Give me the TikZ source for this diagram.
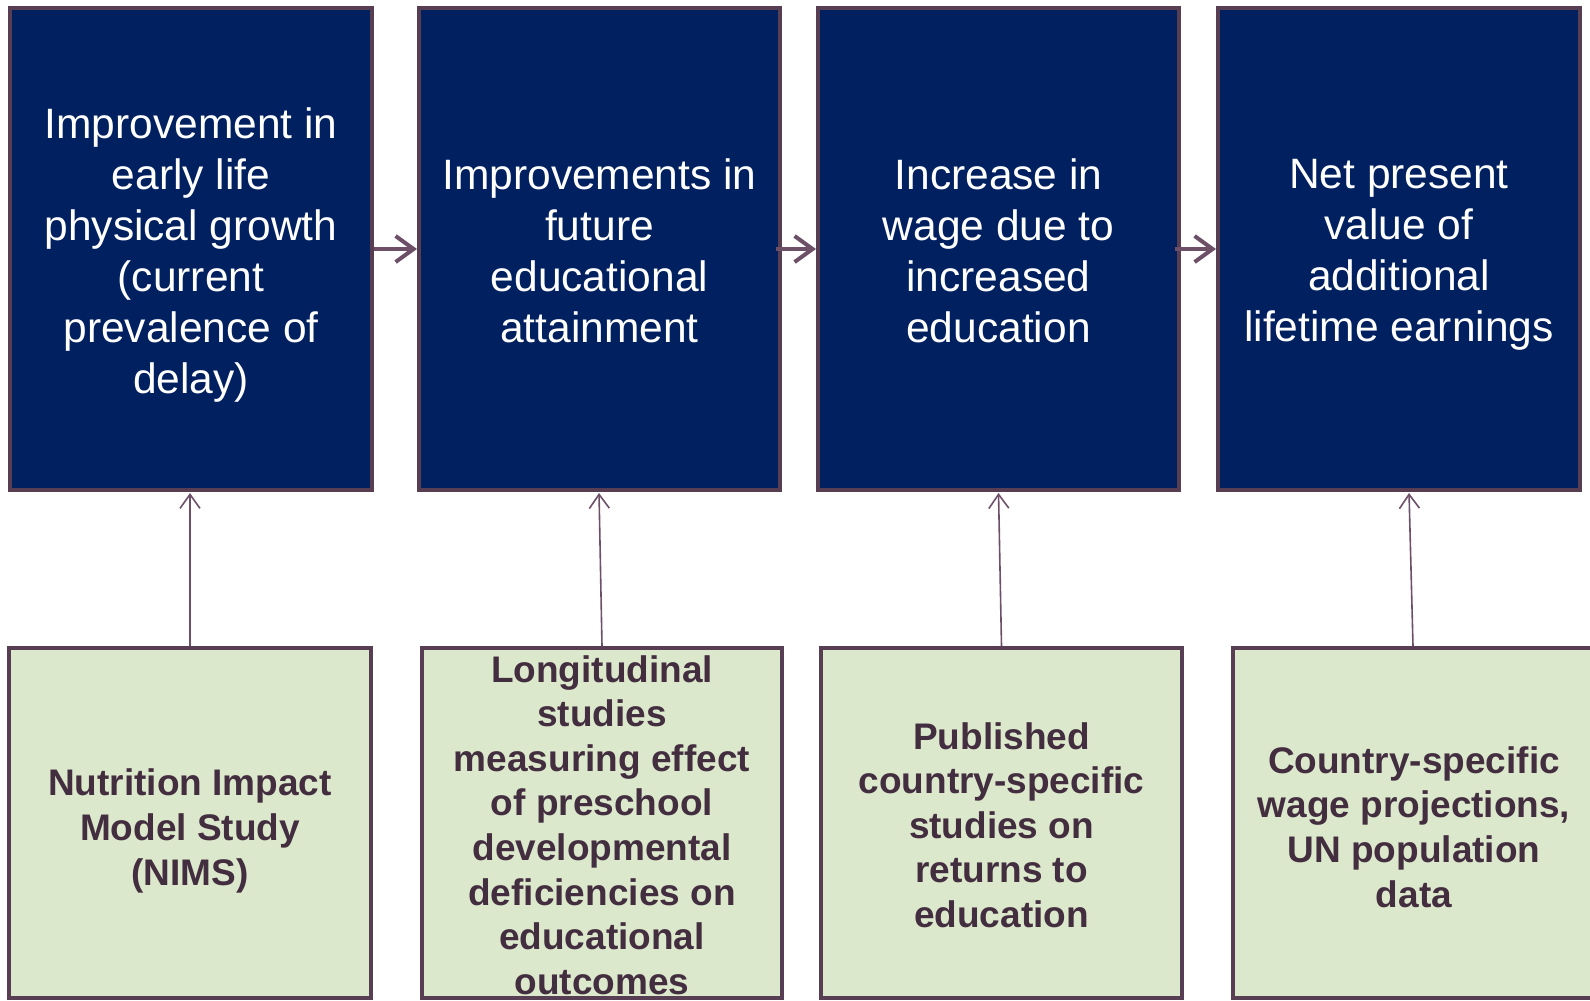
\documentclass[tikz,border=0pt]{standalone}
\usepackage{fontspec}
\setmainfont{Liberation Sans}
\usetikzlibrary{arrows.meta}

\definecolor{navy}{HTML}{002060}
\definecolor{frame}{HTML}{573E52}
\definecolor{linkc}{HTML}{6D5068}
\definecolor{sage}{HTML}{DCE8CC}
\definecolor{srctext}{HTML}{432E40}

\tikzset{
  stagebox/.style={draw=frame, line width=4pt, fill=navy, minimum width=361pt, minimum height=482pt, inner sep=0pt},
  sourcebox/.style={draw=frame, line width=4pt, fill=sage, minimum width=360pt, minimum height=350pt, inner sep=0pt},
  stagetext/.style={text=white, align=center, inner sep=0pt, font=\fontsize{42.5}{51}\selectfont},
  sourcetext/.style={text=srctext, align=center, inner sep=0pt, font=\bfseries\fontsize{37}{44.6}\selectfont},
  flow/.style={draw=linkc, line width=4pt, -{Straight Barb[length=18pt,width=26pt]}},
  feed/.style={draw=linkc, line width=1.6pt, -{Straight Barb[length=14pt,width=20pt]}, shorten >=1pt}
}

\begin{document}
\begin{tikzpicture}[x=1pt, y=-1pt]
\useasboundingbox (0,0) rectangle (1590,1001);
\clip (0,0) rectangle (1590,1001);

% stages of the pathway
\node[stagebox, minimum width=362pt] (t1) at (191,249) {};
\node[stagebox] (t2) at (599.5,249) {};
\node[stagebox] (t3) at (998.5,249) {};
\node[stagebox, minimum width=362pt] (t4) at (1399,249) {};

% data sources
\node[sourcebox, minimum width=362pt] (b1) at (190,823) {};
\node[sourcebox] (b2) at (602,823) {};
\node[sourcebox, minimum width=361pt] (b3) at (1001.5,823) {};
\node[sourcebox] (b4) at (1413,823) {};

% stage labels
\node[stagetext] (t1l) at (191,255) {Improvement in\\early life\\physical growth\\(current\\prevalence of\\delay)};
\node[stagetext] (t2l) at (599.5,251) {Improvements in\\future\\educational\\attainment};
\node[stagetext] (t3l) at (998.5,251) {Increase in\\wage due to\\increased\\education};
\node[stagetext] (t4l) at (1399,255) {Net present\\value of\\additional\\lifetime earnings};

% source labels
\node[sourcetext] (b1l) at (190,831) {Nutrition Impact\\Model Study\\(NIMS)};
\node[sourcetext] (b2l) at (602,825) {Longitudinal\\studies\\measuring effect\\of preschool\\developmental\\deficiencies on\\educational\\outcomes};
\node[sourcetext] (b3l) at (1001.5,825) {Published\\country-specific\\studies on\\returns to\\education};
\node[sourcetext] (b4l) at (1414,827) {Country-specific\\wage projections,\\UN population\\data};

% flow between stages
\draw[flow] (t1.east) -- (t2.west);
\draw[flow] ([xshift=-6pt]t2.east) -- (t3.west);
\draw[flow] ([xshift=-6pt]t3.east) -- (t4.west);

% sources feeding each stage
\draw[feed] (b1.north) -- (b1.north |- t1.south);
\draw[feed] (b2.north) -- ([xshift=-3pt]b2.north |- t2.south);
\draw[feed] (b3.north) -- ([xshift=-3pt]b3.north |- t3.south);
\draw[feed] (b4.north) -- ([xshift=-4pt]b4.north |- t4.south);
\end{tikzpicture}
\end{document}
